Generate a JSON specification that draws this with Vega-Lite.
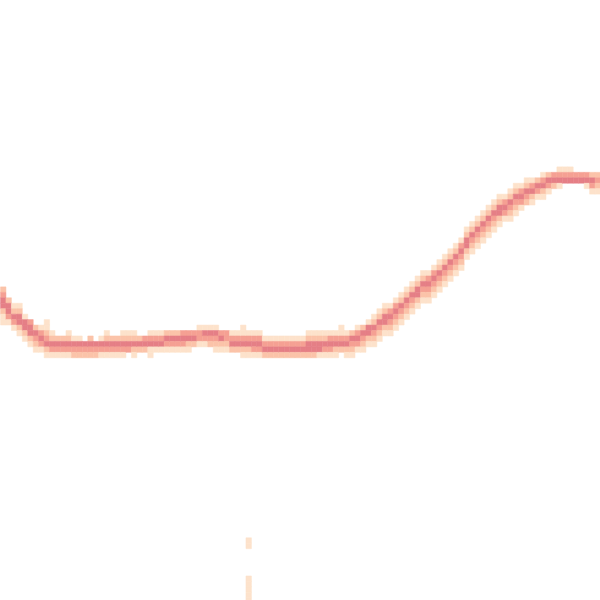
{
"$schema":"https://vega.github.io/schema/vega-lite/v6.json",
"width":600,"height":600,"padding":0,
"autosize":{"type":"fit","contains":"padding"},
"background":"white",
"config":{"view":{"stroke":null}},
"data":{"values":[
{"c":0,"r":53,"v":2},{"c":0,"r":54,"v":3},{"c":0,"r":55,"v":4},{"c":0,"r":56,"v":4},{"c":0,"r":57,"v":2},{"c":0,"r":58,"v":1},{"c":0,"r":59,"v":1},
{"c":1,"r":55,"v":2},{"c":1,"r":56,"v":4},{"c":1,"r":57,"v":4},{"c":1,"r":58,"v":3},{"c":1,"r":59,"v":1},
{"c":2,"r":56,"v":1},{"c":2,"r":57,"v":2},{"c":2,"r":58,"v":4},{"c":2,"r":59,"v":3},{"c":2,"r":60,"v":1},
{"c":3,"r":56,"v":1},{"c":3,"r":57,"v":2},{"c":3,"r":58,"v":4},{"c":3,"r":59,"v":4},{"c":3,"r":60,"v":2},{"c":3,"r":61,"v":1},
{"c":4,"r":58,"v":1},{"c":4,"r":59,"v":4},{"c":4,"r":60,"v":4},{"c":4,"r":61,"v":2},{"c":4,"r":62,"v":1},
{"c":5,"r":59,"v":3},{"c":5,"r":60,"v":4},{"c":5,"r":61,"v":4},{"c":5,"r":62,"v":2},{"c":5,"r":63,"v":1},
{"c":6,"r":60,"v":2},{"c":6,"r":61,"v":4},{"c":6,"r":62,"v":3},{"c":6,"r":63,"v":2},{"c":6,"r":64,"v":1},
{"c":7,"r":60,"v":1},{"c":7,"r":61,"v":3},{"c":7,"r":62,"v":4},{"c":7,"r":63,"v":3},{"c":7,"r":64,"v":1},
{"c":8,"r":59,"v":1},{"c":8,"r":60,"v":1},{"c":8,"r":61,"v":2},{"c":8,"r":62,"v":3},{"c":8,"r":63,"v":4},{"c":8,"r":64,"v":2},{"c":8,"r":65,"v":1},
{"c":9,"r":61,"v":1},{"c":9,"r":62,"v":2},{"c":9,"r":63,"v":4},{"c":9,"r":64,"v":3},{"c":9,"r":65,"v":1},
{"c":10,"r":62,"v":2},{"c":10,"r":63,"v":4},{"c":10,"r":64,"v":3},{"c":10,"r":65,"v":1},
{"c":11,"r":62,"v":2},{"c":11,"r":63,"v":4},{"c":11,"r":64,"v":3},{"c":11,"r":65,"v":1},
{"c":12,"r":61,"v":1},{"c":12,"r":62,"v":2},{"c":12,"r":63,"v":4},{"c":12,"r":64,"v":3},{"c":12,"r":65,"v":1},
{"c":13,"r":62,"v":1},{"c":13,"r":63,"v":4},{"c":13,"r":64,"v":3},{"c":13,"r":65,"v":2},
{"c":14,"r":62,"v":1},{"c":14,"r":63,"v":4},{"c":14,"r":64,"v":3},{"c":14,"r":65,"v":2},
{"c":15,"r":63,"v":4},{"c":15,"r":64,"v":3},{"c":15,"r":65,"v":2},
{"c":16,"r":62,"v":2},{"c":16,"r":63,"v":4},{"c":16,"r":64,"v":3},{"c":16,"r":65,"v":2},
{"c":17,"r":63,"v":4},{"c":17,"r":64,"v":3},{"c":17,"r":65,"v":2},
{"c":18,"r":62,"v":1},{"c":18,"r":63,"v":4},{"c":18,"r":64,"v":3},{"c":18,"r":65,"v":1},
{"c":19,"r":61,"v":1},{"c":19,"r":62,"v":2},{"c":19,"r":63,"v":4},{"c":19,"r":64,"v":3},{"c":19,"r":65,"v":1},
{"c":20,"r":62,"v":2},{"c":20,"r":63,"v":4},{"c":20,"r":64,"v":3},{"c":20,"r":65,"v":1},
{"c":21,"r":62,"v":2},{"c":21,"r":63,"v":4},{"c":21,"r":64,"v":3},{"c":21,"r":65,"v":1},
{"c":22,"r":61,"v":1},{"c":22,"r":62,"v":2},{"c":22,"r":63,"v":4},{"c":22,"r":64,"v":3},{"c":22,"r":65,"v":1},
{"c":23,"r":61,"v":1},{"c":23,"r":62,"v":2},{"c":23,"r":63,"v":4},{"c":23,"r":64,"v":3},
{"c":24,"r":61,"v":1},{"c":24,"r":62,"v":2},{"c":24,"r":63,"v":4},{"c":24,"r":64,"v":2},{"c":24,"r":65,"v":1},
{"c":25,"r":62,"v":2},{"c":25,"r":63,"v":4},{"c":25,"r":64,"v":2},
{"c":26,"r":62,"v":3},{"c":26,"r":63,"v":4},{"c":26,"r":64,"v":2},
{"c":27,"r":61,"v":1},{"c":27,"r":62,"v":3},{"c":27,"r":63,"v":4},{"c":27,"r":64,"v":1},{"c":27,"r":65,"v":1},
{"c":28,"r":61,"v":1},{"c":28,"r":62,"v":3},{"c":28,"r":63,"v":4},{"c":28,"r":64,"v":1},
{"c":29,"r":61,"v":1},{"c":29,"r":62,"v":3},{"c":29,"r":63,"v":4},{"c":29,"r":64,"v":1},
{"c":30,"r":61,"v":2},{"c":30,"r":62,"v":4},{"c":30,"r":63,"v":3},{"c":30,"r":64,"v":1},
{"c":31,"r":61,"v":2},{"c":31,"r":62,"v":4},{"c":31,"r":63,"v":3},{"c":31,"r":64,"v":1},
{"c":32,"r":61,"v":2},{"c":32,"r":62,"v":4},{"c":32,"r":63,"v":3},{"c":32,"r":64,"v":1},
{"c":33,"r":61,"v":3},{"c":33,"r":62,"v":4},{"c":33,"r":63,"v":3},{"c":33,"r":64,"v":1},
{"c":34,"r":61,"v":3},{"c":34,"r":62,"v":4},{"c":34,"r":63,"v":2},{"c":34,"r":64,"v":1},
{"c":35,"r":61,"v":3},{"c":35,"r":62,"v":4},{"c":35,"r":63,"v":2},
{"c":36,"r":60,"v":1},{"c":36,"r":61,"v":3},{"c":36,"r":62,"v":3},{"c":36,"r":63,"v":1},
{"c":37,"r":60,"v":1},{"c":37,"r":61,"v":4},{"c":37,"r":62,"v":3},{"c":37,"r":63,"v":1},
{"c":38,"r":60,"v":1},{"c":38,"r":61,"v":4},{"c":38,"r":62,"v":3},{"c":38,"r":63,"v":2},
{"c":39,"r":60,"v":1},{"c":39,"r":61,"v":4},{"c":39,"r":62,"v":3},{"c":39,"r":63,"v":2},{"c":39,"r":64,"v":1},
{"c":40,"r":61,"v":3},{"c":40,"r":62,"v":4},{"c":40,"r":63,"v":2},{"c":40,"r":64,"v":1},
{"c":41,"r":61,"v":3},{"c":41,"r":62,"v":3},{"c":41,"r":63,"v":2},{"c":41,"r":64,"v":1},
{"c":42,"r":61,"v":1},{"c":42,"r":62,"v":3},{"c":42,"r":63,"v":4},{"c":42,"r":64,"v":2},
{"c":43,"r":61,"v":1},{"c":43,"r":62,"v":3},{"c":43,"r":63,"v":4},{"c":43,"r":64,"v":2},
{"c":44,"r":60,"v":1},{"c":44,"r":61,"v":1},{"c":44,"r":62,"v":3},{"c":44,"r":63,"v":4},{"c":44,"r":64,"v":2},{"c":44,"r":65,"v":1},
{"c":45,"r":61,"v":1},{"c":45,"r":62,"v":3},{"c":45,"r":63,"v":4},{"c":45,"r":64,"v":2},{"c":45,"r":65,"v":1},
{"c":46,"r":61,"v":1},{"c":46,"r":62,"v":3},{"c":46,"r":63,"v":4},{"c":46,"r":64,"v":3},{"c":46,"r":65,"v":1},
{"c":47,"r":61,"v":1},{"c":47,"r":62,"v":3},{"c":47,"r":63,"v":4},{"c":47,"r":64,"v":3},{"c":47,"r":65,"v":1},
{"c":48,"r":62,"v":1},{"c":48,"r":63,"v":3},{"c":48,"r":64,"v":4},{"c":48,"r":65,"v":2},
{"c":49,"r":62,"v":1},{"c":49,"r":63,"v":3},{"c":49,"r":64,"v":4},{"c":49,"r":65,"v":2},
{"c":50,"r":62,"v":1},{"c":50,"r":63,"v":3},{"c":50,"r":64,"v":4},{"c":50,"r":65,"v":2},
{"c":51,"r":62,"v":1},{"c":51,"r":63,"v":3},{"c":51,"r":64,"v":4},{"c":51,"r":65,"v":2},
{"c":52,"r":62,"v":1},{"c":52,"r":63,"v":3},{"c":52,"r":64,"v":4},{"c":52,"r":65,"v":2},
{"c":53,"r":62,"v":1},{"c":53,"r":63,"v":3},{"c":53,"r":64,"v":4},{"c":53,"r":65,"v":2},
{"c":54,"r":62,"v":1},{"c":54,"r":63,"v":3},{"c":54,"r":64,"v":4},{"c":54,"r":65,"v":2},
{"c":55,"r":62,"v":1},{"c":55,"r":63,"v":3},{"c":55,"r":64,"v":4},{"c":55,"r":65,"v":2},
{"c":56,"r":61,"v":1},{"c":56,"r":62,"v":2},{"c":56,"r":63,"v":4},{"c":56,"r":64,"v":4},{"c":56,"r":65,"v":2},
{"c":57,"r":61,"v":1},{"c":57,"r":62,"v":2},{"c":57,"r":63,"v":4},{"c":57,"r":64,"v":4},{"c":57,"r":65,"v":2},
{"c":58,"r":61,"v":1},{"c":58,"r":62,"v":2},{"c":58,"r":63,"v":4},{"c":58,"r":64,"v":4},{"c":58,"r":65,"v":1},
{"c":59,"r":61,"v":1},{"c":59,"r":62,"v":2},{"c":59,"r":63,"v":4},{"c":59,"r":64,"v":3},{"c":59,"r":65,"v":1},
{"c":60,"r":61,"v":1},{"c":60,"r":62,"v":3},{"c":60,"r":63,"v":4},{"c":60,"r":64,"v":3},{"c":60,"r":65,"v":1},
{"c":61,"r":61,"v":1},{"c":61,"r":62,"v":3},{"c":61,"r":63,"v":4},{"c":61,"r":64,"v":2},{"c":61,"r":65,"v":1},
{"c":62,"r":60,"v":1},{"c":62,"r":61,"v":1},{"c":62,"r":62,"v":3},{"c":62,"r":63,"v":4},{"c":62,"r":64,"v":2},
{"c":63,"r":61,"v":1},{"c":63,"r":62,"v":3},{"c":63,"r":63,"v":4},{"c":63,"r":64,"v":2},{"c":63,"r":65,"v":1},
{"c":64,"r":61,"v":2},{"c":64,"r":62,"v":4},{"c":64,"r":63,"v":3},{"c":64,"r":64,"v":2},{"c":64,"r":65,"v":1},
{"c":65,"r":60,"v":1},{"c":65,"r":61,"v":3},{"c":65,"r":62,"v":4},{"c":65,"r":63,"v":3},{"c":65,"r":64,"v":1},
{"c":66,"r":60,"v":2},{"c":66,"r":61,"v":4},{"c":66,"r":62,"v":3},{"c":66,"r":63,"v":2},{"c":66,"r":64,"v":1},
{"c":67,"r":59,"v":1},{"c":67,"r":60,"v":4},{"c":67,"r":61,"v":4},{"c":67,"r":62,"v":2},{"c":67,"r":63,"v":1},
{"c":68,"r":58,"v":1},{"c":68,"r":59,"v":2},{"c":68,"r":60,"v":4},{"c":68,"r":61,"v":3},{"c":68,"r":62,"v":2},{"c":68,"r":63,"v":1},
{"c":69,"r":57,"v":1},{"c":69,"r":58,"v":2},{"c":69,"r":59,"v":4},{"c":69,"r":60,"v":3},{"c":69,"r":61,"v":2},{"c":69,"r":62,"v":1},
{"c":70,"r":56,"v":1},{"c":70,"r":57,"v":2},{"c":70,"r":58,"v":4},{"c":70,"r":59,"v":4},{"c":70,"r":60,"v":2},{"c":70,"r":61,"v":1},
{"c":71,"r":56,"v":1},{"c":71,"r":57,"v":3},{"c":71,"r":58,"v":4},{"c":71,"r":59,"v":3},{"c":71,"r":60,"v":2},{"c":71,"r":61,"v":1},
{"c":72,"r":55,"v":1},{"c":72,"r":56,"v":3},{"c":72,"r":57,"v":4},{"c":72,"r":58,"v":3},{"c":72,"r":59,"v":2},{"c":72,"r":60,"v":1},
{"c":73,"r":54,"v":1},{"c":73,"r":55,"v":2},{"c":73,"r":56,"v":4},{"c":73,"r":57,"v":3},{"c":73,"r":58,"v":2},{"c":73,"r":59,"v":1},
{"c":74,"r":53,"v":1},{"c":74,"r":54,"v":2},{"c":74,"r":55,"v":4},{"c":74,"r":56,"v":3},{"c":74,"r":57,"v":2},{"c":74,"r":58,"v":1},
{"c":75,"r":52,"v":1},{"c":75,"r":53,"v":2},{"c":75,"r":54,"v":4},{"c":75,"r":55,"v":3},{"c":75,"r":56,"v":2},{"c":75,"r":57,"v":1},
{"c":76,"r":51,"v":1},{"c":76,"r":52,"v":2},{"c":76,"r":53,"v":4},{"c":76,"r":54,"v":4},{"c":76,"r":55,"v":2},{"c":76,"r":56,"v":1},
{"c":77,"r":50,"v":1},{"c":77,"r":51,"v":2},{"c":77,"r":52,"v":4},{"c":77,"r":53,"v":3},{"c":77,"r":54,"v":2},{"c":77,"r":55,"v":1},
{"c":78,"r":50,"v":1},{"c":78,"r":51,"v":3},{"c":78,"r":52,"v":4},{"c":78,"r":53,"v":3},{"c":78,"r":54,"v":2},{"c":78,"r":55,"v":1},
{"c":79,"r":49,"v":1},{"c":79,"r":50,"v":3},{"c":79,"r":51,"v":4},{"c":79,"r":52,"v":3},{"c":79,"r":53,"v":2},{"c":79,"r":54,"v":1},
{"c":80,"r":48,"v":1},{"c":80,"r":49,"v":2},{"c":80,"r":50,"v":4},{"c":80,"r":51,"v":3},{"c":80,"r":52,"v":2},{"c":80,"r":53,"v":1},
{"c":81,"r":47,"v":1},{"c":81,"r":48,"v":2},{"c":81,"r":49,"v":4},{"c":81,"r":50,"v":3},{"c":81,"r":51,"v":2},{"c":81,"r":52,"v":1},
{"c":82,"r":46,"v":1},{"c":82,"r":47,"v":2},{"c":82,"r":48,"v":4},{"c":82,"r":49,"v":3},{"c":82,"r":50,"v":2},{"c":82,"r":51,"v":1},
{"c":83,"r":45,"v":1},{"c":83,"r":46,"v":2},{"c":83,"r":47,"v":4},{"c":83,"r":48,"v":3},{"c":83,"r":49,"v":2},{"c":83,"r":50,"v":1},
{"c":84,"r":44,"v":1},{"c":84,"r":45,"v":3},{"c":84,"r":46,"v":4},{"c":84,"r":47,"v":3},{"c":84,"r":48,"v":2},{"c":84,"r":49,"v":1},
{"c":85,"r":42,"v":1},{"c":85,"r":43,"v":2},{"c":85,"r":44,"v":4},{"c":85,"r":45,"v":4},{"c":85,"r":46,"v":2},{"c":85,"r":47,"v":1},
{"c":86,"r":41,"v":1},{"c":86,"r":42,"v":2},{"c":86,"r":43,"v":4},{"c":86,"r":44,"v":3},{"c":86,"r":45,"v":2},{"c":86,"r":46,"v":1},
{"c":87,"r":40,"v":1},{"c":87,"r":41,"v":2},{"c":87,"r":42,"v":4},{"c":87,"r":43,"v":3},{"c":87,"r":44,"v":2},{"c":87,"r":45,"v":1},
{"c":88,"r":39,"v":1},{"c":88,"r":40,"v":2},{"c":88,"r":41,"v":4},{"c":88,"r":42,"v":3},{"c":88,"r":43,"v":2},{"c":88,"r":44,"v":1},
{"c":89,"r":38,"v":1},{"c":89,"r":39,"v":2},{"c":89,"r":40,"v":4},{"c":89,"r":41,"v":3},{"c":89,"r":42,"v":2},{"c":89,"r":43,"v":1},
{"c":90,"r":37,"v":1},{"c":90,"r":38,"v":2},{"c":90,"r":39,"v":4},{"c":90,"r":40,"v":3},{"c":90,"r":41,"v":2},{"c":90,"r":42,"v":1},
{"c":91,"r":36,"v":1},{"c":91,"r":37,"v":2},{"c":91,"r":38,"v":4},{"c":91,"r":39,"v":4},{"c":91,"r":40,"v":2},{"c":91,"r":41,"v":1},
{"c":92,"r":36,"v":1},{"c":92,"r":37,"v":3},{"c":92,"r":38,"v":4},{"c":92,"r":39,"v":3},{"c":92,"r":40,"v":1},
{"c":93,"r":35,"v":1},{"c":93,"r":36,"v":2},{"c":93,"r":37,"v":4},{"c":93,"r":38,"v":3},{"c":93,"r":39,"v":2},{"c":93,"r":40,"v":1},
{"c":94,"r":34,"v":1},{"c":94,"r":35,"v":2},{"c":94,"r":36,"v":4},{"c":94,"r":37,"v":3},{"c":94,"r":38,"v":2},{"c":94,"r":39,"v":1},
{"c":95,"r":34,"v":1},{"c":95,"r":35,"v":3},{"c":95,"r":36,"v":4},{"c":95,"r":37,"v":3},{"c":95,"r":38,"v":1},
{"c":96,"r":33,"v":1},{"c":96,"r":34,"v":2},{"c":96,"r":35,"v":4},{"c":96,"r":36,"v":3},{"c":96,"r":37,"v":2},
{"c":97,"r":33,"v":1},{"c":97,"r":34,"v":3},{"c":97,"r":35,"v":4},{"c":97,"r":36,"v":2},{"c":97,"r":37,"v":1},
{"c":98,"r":33,"v":2},{"c":98,"r":34,"v":4},{"c":98,"r":35,"v":3},{"c":98,"r":36,"v":1},
{"c":99,"r":32,"v":1},{"c":99,"r":33,"v":3},{"c":99,"r":34,"v":4},{"c":99,"r":35,"v":2},{"c":99,"r":36,"v":1},
{"c":100,"r":32,"v":2},{"c":100,"r":33,"v":4},{"c":100,"r":34,"v":3},{"c":100,"r":35,"v":1},
{"c":101,"r":32,"v":3},{"c":101,"r":33,"v":4},{"c":101,"r":34,"v":2},
{"c":102,"r":31,"v":1},{"c":102,"r":32,"v":3},{"c":102,"r":33,"v":4},{"c":102,"r":34,"v":1},
{"c":103,"r":31,"v":1},{"c":103,"r":32,"v":3},{"c":103,"r":33,"v":4},
{"c":104,"r":31,"v":1},{"c":104,"r":32,"v":3},{"c":104,"r":33,"v":4},
{"c":105,"r":32,"v":3},{"c":105,"r":33,"v":4},
{"c":106,"r":32,"v":3},{"c":106,"r":33,"v":4},
{"c":107,"r":32,"v":3},{"c":107,"r":33,"v":4},{"c":107,"r":34,"v":1},
{"c":108,"r":32,"v":2},{"c":108,"r":33,"v":4},{"c":108,"r":34,"v":3},{"c":108,"r":35,"v":1},
{"c":109,"r":32,"v":2},{"c":109,"r":33,"v":3},{"c":109,"r":34,"v":2},{"c":109,"r":35,"v":1},
{"c":45,"r":99,"v":1},{"c":45,"r":100,"v":1},
{"c":45,"r":106,"v":1},{"c":45,"r":107,"v":1},{"c":45,"r":108,"v":1},{"c":45,"r":109,"v":1},{"c":45,"r":110,"v":1}
]},
"mark":{"type":"rect","clip":true,"binSpacing":0,"strokeWidth":0.5},
"encoding":{
"x":{"field":"c","type":"quantitative","bin":{"step":1,"extent":[0,110],"nice":false},"scale":{"domain":[0,110],"nice":false,"zero":false},"axis":null},
"y":{"field":"r","type":"quantitative","bin":{"step":1,"extent":[-0.5,111.5],"nice":false},"scale":{"domain":[0,110],"reverse":true,"nice":false,"zero":false},"axis":null},
"color":{"field":"v","type":"quantitative","scale":{"domain":[1,2,3,4],"range":["#fde2cb","#fbc3a9","#f5a093","#e57f86"]},"legend":null},
"stroke":{"field":"v","type":"quantitative","scale":{"domain":[1,2,3,4],"range":["#fde2cb","#fbc3a9","#f5a093","#e57f86"]},"legend":null}
}
}
